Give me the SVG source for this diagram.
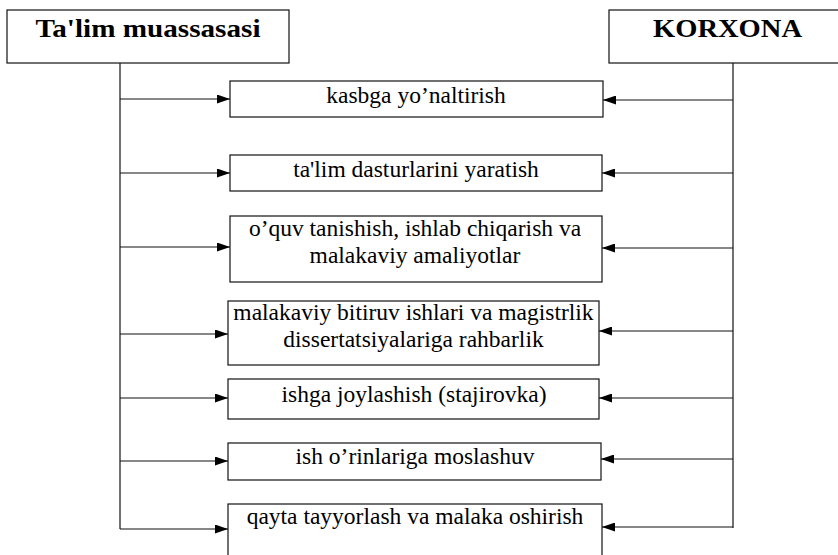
<svg xmlns="http://www.w3.org/2000/svg" width="838" height="555" viewBox="0 0 838 555">
<defs>
<style>
.box{fill:#fff;stroke:#111;stroke-width:1.2}
.t{font-size:23.5px;fill:#000;text-anchor:middle}
.h{font-size:26px;font-weight:bold;fill:#000;text-anchor:middle}
.c{fill:none;stroke:#111;stroke-width:1.2}
.a{marker-end:url(#ah)}
</style>
<marker id="ah" viewBox="0 0 13 9" refX="13" refY="4.5" markerWidth="13" markerHeight="9" markerUnits="userSpaceOnUse" orient="auto">
<path d="M0 0 L13 4.5 L0 9 Z" fill="#000"/>
</marker>
</defs>
<rect width="838" height="555" fill="#fff"/>
<g id="connectors">
<path class="c" d="M120 63 V529"/>
<path class="c" d="M733 63 V528"/>
<path class="c a" d="M120 99 H230"/>
<path class="c a" d="M120 173 H230"/>
<path class="c a" d="M120 247 H230"/>
<path class="c a" d="M120 334 H228"/>
<path class="c a" d="M120 398 H228"/>
<path class="c a" d="M120 461 H228"/>
<path class="c a" d="M120 529 H228"/>
<path class="c a" d="M733 100 H603"/>
<path class="c a" d="M733 173 H602"/>
<path class="c a" d="M733 248 H602"/>
<path class="c a" d="M733 331 H599"/>
<path class="c a" d="M733 398 H599"/>
<path class="c a" d="M733 459 H601"/>
<path class="c a" d="M733 527 H602"/>
</g>
<g font-family="Liberation Serif, Times New Roman, DejaVu Serif, serif">
<g id="talim">
<rect class="box" x="7" y="10" width="282" height="53"/>
<text class="h" x="148" y="37" textLength="225" lengthAdjust="spacingAndGlyphs">Ta'lim muassasasi</text>
</g>
<g id="korxona">
<rect class="box" x="609" y="10" width="240" height="53"/>
<text class="h" x="727.5" y="37" textLength="149" lengthAdjust="spacingAndGlyphs">KORXONA</text>
</g>
<g id="n1">
<rect class="box" x="230" y="81" width="373" height="36"/>
<text class="t" x="416" y="103">kasbga yo’naltirish</text>
</g>
<g id="n2">
<rect class="box" x="230" y="155" width="372" height="36"/>
<text class="t" x="416" y="177">ta'lim dasturlarini yaratish</text>
</g>
<g id="n3">
<rect class="box" x="230" y="216" width="372" height="66"/>
<text class="t" x="415" y="236">o’quv tanishish, ishlab chiqarish va</text>
<text class="t" x="415" y="263">malakaviy amaliyotlar</text>
</g>
<g id="n4">
<rect class="box" x="228" y="301" width="371" height="64"/>
<text class="t" x="413.5" y="320">malakaviy bitiruv ishlari va magistrlik</text>
<text class="t" x="413.5" y="347">dissertatsiyalariga rahbarlik</text>
</g>
<g id="n5">
<rect class="box" x="228" y="379" width="371" height="40"/>
<text class="t" x="414" y="402">ishga joylashish (stajirovka)</text>
</g>
<g id="n6">
<rect class="box" x="228" y="443" width="373" height="37"/>
<text class="t" x="415" y="464">ish o’rinlariga moslashuv</text>
</g>
<g id="n7">
<rect class="box" x="228" y="504" width="374" height="60"/>
<text class="t" x="415" y="524">qayta tayyorlash va malaka oshirish</text>
</g>
</g>
</svg>
